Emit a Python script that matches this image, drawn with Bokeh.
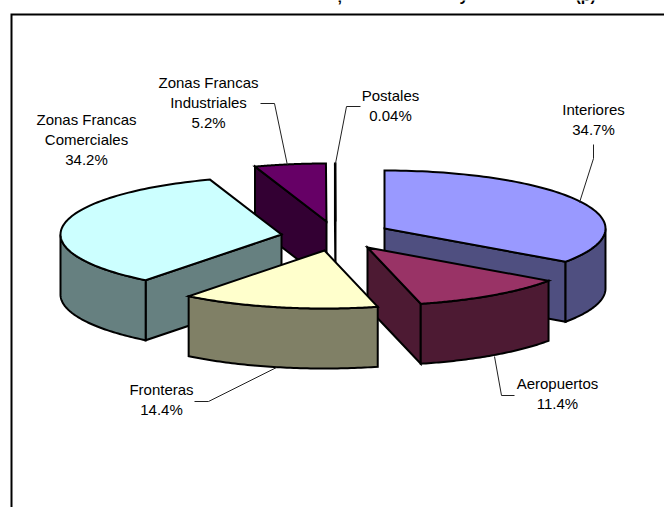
import math
import numpy as np
from bokeh.plotting import figure
from bokeh.models import Range1d
from bokeh.embed import file_html
from bokeh.resources import INLINE
from bokeh.core.properties import value

# ---- data (clockwise from 12 o'clock)
categories = ["Interiores", "Aeropuertos", "Fronteras", "Zonas Francas Comerciales",
              "Zonas Francas Industriales", "Postales"]
shares = [34.7, 11.4, 14.4, 34.2, 5.2, 0.04]
label_lines = [["Interiores"], ["Aeropuertos"], ["Fronteras"],
               ["Zonas Francas", "Comerciales"], ["Zonas Francas", "Industriales"], ["Postales"]]
top_colors = ["#9999FF", "#993366", "#FFFFCC", "#CCFFFF", "#660066", "#660066"]
side_colors = ["#4F4F80", "#4D1A33", "#808066", "#668080", "#330033", "#330033"]

# ---- layout, in page pixels
W, H = 664, 507
RX, RY, DEPTH = 221, 58, 60
apex = [(384, 228), (367, 247), (324, 250), (281, 234), (326, 221), (335, 221)]
draw_order = [4, 5, 0, 3, 1, 2]
label_pos = [(593, 109), (557, 383), (161, 389), (86, 119), (208, 82), (390, 95)]
LINE_H = 20
leaders = [
    [(593, 144), (593, 158), (579, 202)],
    [(514, 395), (501, 395), (494, 356)],
    [(194, 401), (208, 401), (276, 367)],
    [],
    [(260, 103), (274, 103), (287, 165)],
    [(360, 106), (346, 106), (335, 163)],
]
title_bits = [(",", 337), ("y", 459), ("(p)", 575)]

p = figure(width=W, height=H, output_backend="svg", toolbar_location=None,
           x_range=Range1d(0, W), y_range=Range1d(H, 0), min_border=0)
p.axis.visible = False
p.grid.visible = False
p.outline_line_color = None
p.background_fill_color = "white"

# frame, cut by the page edge
p.line([11, 11, W], [H, 14, 14], line_color="black", line_width=2, line_join="miter")

total = sum(shares)
edges = np.cumsum([0] + shares) / total * 360.0


def rim(i, deg):
    t = np.radians(deg)
    return apex[i][0] + RX * np.sin(t), apex[i][1] - RY * np.cos(t)


style = dict(line_color="black", line_width=2, line_join="miter")

for i in draw_order:
    a0, a1 = edges[i], edges[i + 1]
    ax, ay = apex[i]
    # radial walls
    for a, visible in ((a0, 180 < a0 < 360), (a1, 0 < a1 < 180)):
        if visible:
            rx, ry = rim(i, a)
            p.patch([ax, rx, rx, ax], [ay, ry, ry + DEPTH, ay + DEPTH],
                    fill_color=side_colors[i], **style)
    # outer wall
    w0, w1 = max(a0, 90), min(a1, 270)
    if w1 > w0:
        th = np.linspace(w0, w1, 60)
        xs, ys = rim(i, th)
        p.patch(list(xs) + list(xs[::-1]), list(ys) + list(ys[::-1] + DEPTH),
                fill_color=side_colors[i], **style)
    # top
    th = np.linspace(a0, a1, 90)
    xs, ys = rim(i, th)
    p.patch([ax] + list(xs), [ay] + list(ys), fill_color=top_colors[i], **style)

# leaders
for pts in leaders:
    if pts:
        p.line([q[0] for q in pts], [q[1] for q in pts], line_color="#202020", line_width=1)

# labels
tx, ty, tt = [], [], []
for i, lines in enumerate(label_lines):
    all_lines = lines + [f"{shares[i]}%"]
    for k, s in enumerate(all_lines):
        tx.append(label_pos[i][0])
        ty.append(label_pos[i][1] + k * LINE_H)
        tt.append(s)
p.text(tx, ty, text=tt, text_align="center", text_baseline="alphabetic",
       text_font=value("Liberation Sans"), text_font_size="15px", text_color="black")

# what is left of the title, cut by the top of the picture
p.text([b[1] for b in title_bits], [-5] * len(title_bits), text=[b[0] for b in title_bits],
       text_align="left", text_baseline="alphabetic", text_font=value("Liberation Sans"),
       text_font_style="bold", text_font_size="16px", text_color="black")

open("out.html", "w").write(file_html(p, INLINE))
